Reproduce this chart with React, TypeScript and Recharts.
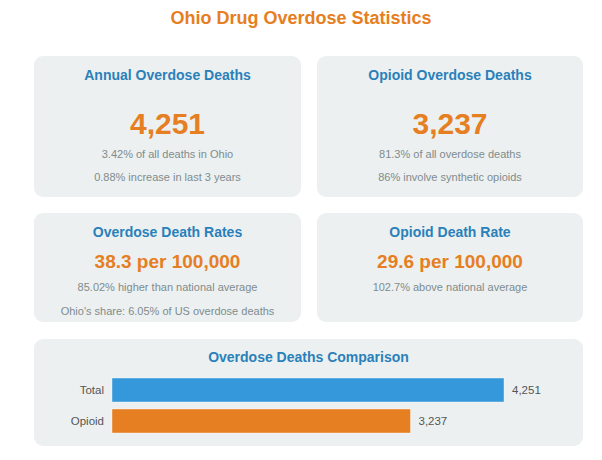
import { Bar, BarChart, Cell, LabelList, XAxis, YAxis } from "recharts";

const pageTitle = "Ohio Drug Overdose Statistics";

const cardTitles = [
  "Annual Overdose Deaths",
  "Opioid Overdose Deaths",
  "Overdose Death Rates",
  "Opioid Death Rate",
];
const cardValues = ["4,251", "3,237", "38.3 per 100,000", "29.6 per 100,000"];
const cardNotes = [
  ["3.42% of all deaths in Ohio", "0.88% increase in last 3 years"],
  ["81.3% of all overdose deaths", "86% involve synthetic opioids"],
  ["85.02% higher than national average", "Ohio's share: 6.05% of US overdose deaths"],
  ["102.7% above national average"],
];

const chartTitle = "Overdose Deaths Comparison";
const categories = ["Total", "Opioid"];
const deaths = [4251, 3237];
const barColors = ["#3498db", "#e67e22"];

// card boxes + text centre lines (page coords)
const boxes = [
  { left: 34, top: 56, width: 267, height: 141, big: 30, lines: [76, 124, 155, 178] },
  { left: 317, top: 56, width: 266, height: 141, big: 30, lines: [76, 124, 155, 178] },
  { left: 34, top: 213, width: 267, height: 109, big: 19, lines: [232.5, 262, 288, 312] },
  { left: 317, top: 213, width: 266, height: 109, big: 19, lines: [232.5, 262, 288, 312] },
];

const font = "'Liberation Sans', Arial, sans-serif";
const orange = "#e67e22";
const blue = "#2a80b9";
const grey = "#7f8c8d";
const cardBg = "#ecf0f1";

function Line({ y, top, size, color, bold, text }: any) {
  const lh = size * 1.4;
  return (
    <div
      style={{
        position: "absolute",
        left: 0,
        right: 0,
        top: y - top - lh / 2,
        height: lh,
        lineHeight: `${lh}px`,
        fontSize: size,
        fontWeight: bold ? 700 : 400,
        color,
        textAlign: "center",
        whiteSpace: "nowrap",
      }}
    >
      {text}
    </div>
  );
}

export default function App() {
  const chartData = categories.map((name, i) => ({ name, value: deaths[i] }));

  return (
    <div
      style={{
        position: "absolute",
        left: 0,
        top: 0,
        width: 602,
        height: 460,
        background: "#fff",
        fontFamily: font,
      }}
    >
      <div
        style={{
          position: "absolute",
          left: 0,
          width: 602,
          top: 18 - 13,
          height: 26,
          lineHeight: "26px",
          textAlign: "center",
          fontSize: 18,
          fontWeight: 700,
          color: orange,
        }}
      >
        {pageTitle}
      </div>

      {boxes.map((b, i) => (
        <div
          key={i}
          style={{
            position: "absolute",
            left: b.left,
            top: b.top,
            width: b.width,
            height: b.height,
            background: cardBg,
            borderRadius: 9,
          }}
        >
          <Line y={b.lines[0]} top={b.top} size={14} color={blue} bold text={cardTitles[i]} />
          <Line y={b.lines[1]} top={b.top} size={b.big} color={orange} bold text={cardValues[i]} />
          {cardNotes[i].map((n, j) => (
            <Line key={j} y={b.lines[2 + j]} top={b.top} size={11} color={grey} text={n} />
          ))}
        </div>
      ))}

      <div
        style={{
          position: "absolute",
          left: 34,
          top: 339,
          width: 549,
          height: 107,
          background: cardBg,
          borderRadius: 9,
        }}
      >
        <Line y={357.5} top={339} size={14} color={blue} bold text={chartTitle} />
        <div style={{ position: "absolute", left: 0, top: 35 }}>
          <BarChart
            width={549}
            height={62}
            layout="vertical"
            data={chartData}
            margin={{ top: 0, right: 79, bottom: 0, left: 0 }}
          >
            <XAxis type="number" hide domain={[0, "dataMax"]} />
            <YAxis
              type="category"
              dataKey="name"
              width={78}
              axisLine={false}
              tickLine={false}
              tick={{ fill: "#555", fontSize: 11.5 }}
            />
            <Bar
              dataKey="value"
              barSize={24}
              stroke="#ffffff"
              strokeOpacity={0.4}
              isAnimationActive={false}
            >
              {chartData.map((d, i) => (
                <Cell key={d.name} fill={barColors[i]} />
              ))}
              <LabelList
                dataKey="value"
                position="right"
                offset={8}
                fill="#555"
                fontSize={11.5}
                formatter={(v: any) => Number(v).toLocaleString("en-US")}
              />
            </Bar>
          </BarChart>
        </div>
      </div>
    </div>
  );
}
